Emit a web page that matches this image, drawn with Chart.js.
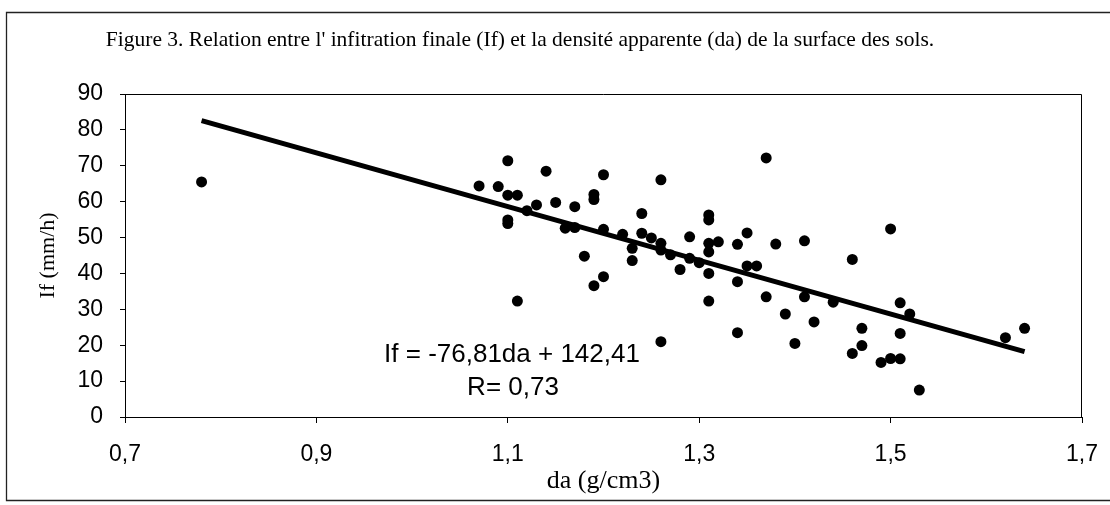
<!DOCTYPE html>
<html>
<head>
<meta charset="utf-8">
<script src="https://cdn.jsdelivr.net/npm/chart.js@4.4.1/dist/chart.umd.min.js"></script>
<style>
html, body { margin: 0; padding: 0; background: #fff; }
</style>
</head>
<body>
<canvas id="chart" width="1110" height="505"></canvas>
<script>
// density (da, g/cm3) of each sample
var daValues = [0.78, 1.07, 1.09, 1.10, 1.10, 1.11, 1.10, 1.10, 1.11, 1.12,
	1.13, 1.14, 1.15, 1.16, 1.17, 1.17, 1.18, 1.19, 1.19, 1.19,
	1.20, 1.20, 1.20, 1.22, 1.23, 1.23, 1.24, 1.24, 1.25, 1.26,
	1.26, 1.26, 1.26, 1.27, 1.28, 1.29, 1.29, 1.30, 1.31, 1.31,
	1.31, 1.31, 1.31, 1.31, 1.32, 1.34, 1.34, 1.34, 1.35, 1.35,
	1.36, 1.37, 1.37, 1.38, 1.39, 1.40, 1.41, 1.41, 1.42, 1.44,
	1.46, 1.46, 1.47, 1.47, 1.49, 1.50, 1.50, 1.51, 1.51, 1.51,
	1.52, 1.53, 1.62, 1.64];

// final infiltration (If, mm/h) of each sample
var ifValues = [65.5, 64.4, 64.2, 71.4, 61.8, 61.8, 54.9, 53.9, 32.3, 57.5,
	59.1, 68.5, 59.8, 52.6, 58.6, 52.8, 44.8, 62.0, 60.6, 36.6,
	67.5, 52.3, 39.1, 50.9, 47.0, 43.6, 56.7, 51.2, 49.9, 66.1,
	48.4, 46.5, 21.0, 45.2, 41.1, 50.2, 44.2, 43.0, 56.3, 54.9,
	48.4, 46.0, 40.0, 32.3, 48.8, 48.1, 37.7, 23.5, 51.3, 42.1,
	42.1, 72.2, 33.5, 48.2, 28.7, 20.5, 49.1, 33.5, 26.5, 32.0,
	43.9, 17.7, 24.7, 19.9, 15.2, 52.4, 16.3, 16.2, 23.3, 31.8,
	28.7, 7.5, 22.1, 24.7];

// trend line ends as drawn in the figure
var trendX = [0.78, 1.64];
var trendY = [82.6, 18.2];

var xTicks = [0.7, 0.9, 1.1, 1.3, 1.5, 1.7];
var yTicks = [0, 10, 20, 30, 40, 50, 60, 70, 80, 90];

var titleText = "Figure 3. Relation entre l' infitration finale (If) et la densité apparente (da) de la surface des sols.";
var equationLines = ["If = -76,81da + 142,41", "R= 0,73"];

function toPoints(xs, ys) {
	var pts = [];
	for (var i = 0; i < xs.length; i++) {
		pts.push({x: xs[i], y: ys[i]});
	}
	return pts;
}

//Frame, plot border, title and equation text
var decorations = {
	id: 'decorations',
	beforeDraw: function (chart) {
		var ctx = chart.ctx;
		ctx.save();
		ctx.fillStyle = '#fff';
		ctx.fillRect(0, 0, chart.width, chart.height);
		ctx.restore();
	},
	afterDraw: function (chart) {
		var ctx = chart.ctx;
		var a = chart.chartArea;
		ctx.save();
		// outer frame
		ctx.strokeStyle = '#222';
		ctx.lineWidth = 1.3;
		ctx.beginPath();
		ctx.moveTo(1112, 12.5);
		ctx.lineTo(6.5, 12.5);
		ctx.lineTo(6.5, 500.5);
		ctx.lineTo(1112, 500.5);
		ctx.stroke();
		// plot area top / right
		ctx.strokeStyle = '#000';
		ctx.lineWidth = 1;
		ctx.beginPath();
		ctx.moveTo(a.left, a.top + 0.5);
		ctx.lineTo(a.right - 0.5, a.top + 0.5);
		ctx.lineTo(a.right - 0.5, a.bottom);
		ctx.stroke();
		// title
		ctx.fillStyle = '#000';
		ctx.font = '21.5px "Liberation Serif", "DejaVu Serif", serif';
		ctx.textAlign = 'center';
		ctx.textBaseline = 'middle';
		ctx.fillText(titleText, 520, 40);
		// equation
		ctx.font = '26px "Liberation Sans", Arial, sans-serif';
		ctx.fillText(equationLines[0], 512, 355);
		ctx.fillText(equationLines[1], 513, 388);
		ctx.restore();
	}
};

function noLabelPadding(scale) {
	scale.paddingLeft = 0;
	scale.paddingRight = 0;
	scale.paddingTop = 0;
	scale.paddingBottom = 0;
}

var ctx = document.getElementById('chart');
var chart = new Chart(ctx, {
	type: 'scatter',
	data: {
		datasets: [{
			label: 'If',
			data: toPoints(daValues, ifValues),
			backgroundColor: '#000',
			borderWidth: 0,
			pointRadius: 5.5,
			pointHoverRadius: 5.5
		}, {
			type: 'line',
			label: 'tendance',
			data: toPoints(trendX, trendY),
			borderColor: '#000',
			borderWidth: 5,
			pointRadius: 0,
			fill: false
		}]
	},
	options: {
		responsive: false,
		animation: false,
		devicePixelRatio: 1,
		layout: {
			padding: {top: 94, right: 28, left: 0, bottom: 0}
		},
		plugins: {
			legend: {display: false},
			tooltip: {enabled: false}
		},
		scales: {
			x: {
				type: 'linear',
				min: 0.7,
				max: 1.7,
				afterFit: function (scale) { scale.height = 88; noLabelPadding(scale); },
				afterBuildTicks: function (scale) {
					scale.ticks = xTicks.map(function (v) { return {value: v}; });
				},
				grid: {drawOnChartArea: false, tickLength: 6, color: '#000', tickColor: '#000'},
				border: {display: true, color: '#000', width: 1},
				ticks: {
					padding: 18,
					color: '#000',
					font: {family: '"Liberation Sans", Arial, sans-serif', size: 23},
					maxRotation: 0,
					callback: function (v) { return v.toFixed(1).replace('.', ','); }
				},
				title: {
					display: true,
					text: 'da (g/cm3)',
					color: '#000',
					font: {family: '"Liberation Serif", serif', size: 26},
					padding: {top: 0, bottom: 8}
				}
			},
			y: {
				type: 'linear',
				min: 0,
				max: 90,
				afterFit: function (scale) { scale.width = 125; noLabelPadding(scale); },
				afterBuildTicks: function (scale) {
					scale.ticks = yTicks.map(function (v) { return {value: v}; });
				},
				grid: {drawOnChartArea: false, tickLength: 5, color: '#000', tickColor: '#000'},
				border: {display: true, color: '#000', width: 1},
				ticks: {
					padding: 17,
					color: '#000',
					font: {family: '"Liberation Sans", Arial, sans-serif', size: 23}
				},
				title: {
					display: true,
					text: 'If (mm/h)',
					color: '#000',
					font: {family: '"Liberation Serif", serif', size: 22},
					padding: {top: 35, bottom: 0}
				}
			}
		}
	},
	plugins: [decorations]
});
</script>
</body>
</html>
